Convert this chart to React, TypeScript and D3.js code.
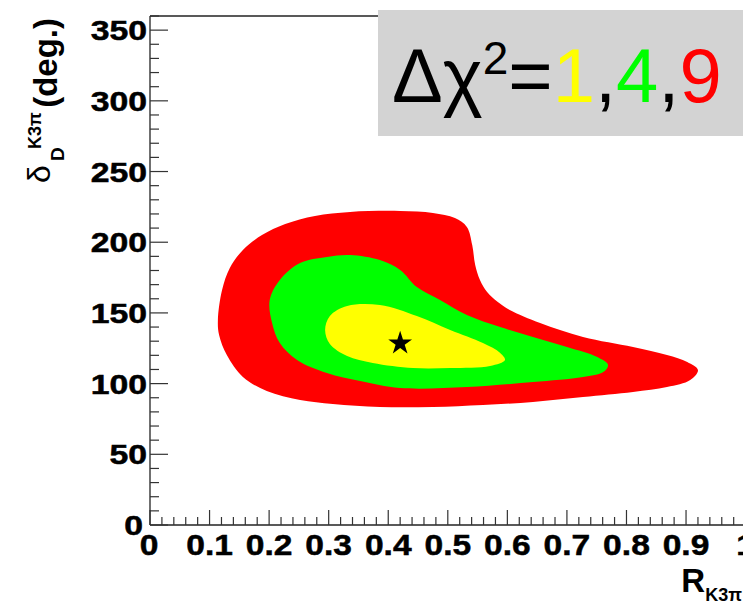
import React from "react";
import * as d3 from "d3";

// Confidence regions in the (R, delta) plane, as [R, delta(deg)] boundary points
const chi2Levels = [9, 4, 1];
const levelColors = ["#ff0000", "#00ff00", "#ffff00"];

const contour9: [number, number][] = [
  [0.114, 145.0], [0.121, 166.2], [0.134, 181.8], [0.156, 194.5], [0.188, 205.1],
  [0.227, 212.9], [0.277, 218.6], [0.336, 221.4], [0.42, 222.1], [0.475, 220.7],
  [0.512, 217.1], [0.532, 210.8], [0.541, 198.0], [0.546, 183.9], [0.554, 173.3],
  [0.566, 164.8], [0.584, 157.7], [0.604, 152.1], [0.655, 142.9], [0.727, 133.0],
  [0.811, 125.9], [0.868, 120.2], [0.902, 115.3], [0.92, 109.6], [0.907, 102.6],
  [0.868, 97.6], [0.811, 94.1], [0.727, 90.5], [0.643, 87.0], [0.559, 84.9],
  [0.475, 83.5], [0.386, 83.5], [0.307, 85.6], [0.252, 88.4], [0.196, 94.8],
  [0.156, 104.7], [0.129, 120.2], [0.116, 134.4],
];

const contour4: [number, number][] = [
  [0.201, 159.1], [0.218, 173.3], [0.252, 185.3], [0.297, 189.6], [0.336, 191.0],
  [0.386, 187.4], [0.42, 180.4], [0.448, 168.3], [0.487, 159.1], [0.532, 148.5],
  [0.588, 140.0], [0.643, 133.0], [0.7, 125.9], [0.751, 118.8], [0.769, 113.2],
  [0.761, 108.2], [0.727, 104.7], [0.643, 101.1], [0.532, 97.6], [0.42, 96.9],
  [0.353, 101.9], [0.297, 107.5], [0.247, 116.7], [0.218, 128.7], [0.205, 142.9],
];

const contour1: [number, number][] = [
  [0.294, 137.9], [0.302, 147.8], [0.331, 154.9], [0.386, 155.6], [0.448, 147.8],
  [0.504, 137.9], [0.559, 128.7], [0.588, 121.7], [0.596, 116.7], [0.571, 112.5],
  [0.504, 111.0], [0.442, 111.0], [0.374, 114.6], [0.331, 119.5], [0.302, 128.0],
];

const contours = [contour9, contour4, contour1];

// Best-fit point
const bestFit: [number, number] = [0.42, 128.5];

const xTicks = [0, 0.1, 0.2, 0.3, 0.4, 0.5, 0.6, 0.7, 0.8, 0.9, 1];
const xTickLabels = ["0", "0.1", "0.2", "0.3", "0.4", "0.5", "0.6", "0.7", "0.8", "0.9", "1"];
const yTicks = [0, 50, 100, 150, 200, 250, 300, 350];
const yTickLabels = ["0", "50", "100", "150", "200", "250", "300", "350"];

const W = 743;
const H = 603;
const FONT = "'Liberation Sans', Arial, Helvetica, sans-serif";

export default function App() {
  const x = d3.scaleLinear().domain([0, 1]).range([150, 745.6]);
  const y = d3.scaleLinear().domain([0, 360]).range([525, 16]);

  const line = d3
    .line<[number, number]>()
    .x((d) => x(d[0]))
    .y((d) => y(d[1]))
    .curve(d3.curveCatmullRomClosed.alpha(0.5));

  const xMinor = d3.range(0, 1.0001, 0.02);
  const yMinor = d3.range(0, 360.001, 10);

  const star = d3.symbol().type(d3.symbolStar).size(175)();

  const x0 = x(0);
  const y0 = y(0);
  const yTop = y(360);

  return (
    <svg
      width={W}
      height={H}
      viewBox={`0 0 ${W} ${H}`}
      style={{ position: "absolute", left: 0, top: 0, background: "#fff" }}
    >
      <rect x={0} y={0} width={W} height={H} fill="#fff" />

      {/* filled Δχ² regions, outermost first */}
      {contours.map((c, i) => (
        <path key={chi2Levels[i]} d={line(c) || ""} fill={levelColors[i]} stroke="none" />
      ))}

      <path d={star || ""} transform={`translate(${x(bestFit[0])},${y(bestFit[1])})`} fill="#000" />

      {/* frame */}
      <g stroke="#222" strokeWidth={1.3} fill="none">
        <line x1={x0} x2={x0} y1={yTop} y2={y0} />
        <line x1={x0} x2={W} y1={y0} y2={y0} />
        <line x1={x0} x2={W} y1={yTop} y2={yTop} />
      </g>

      {/* ticks */}
      <g stroke="#333" strokeWidth={1.2}>
        {xMinor.map((v, i) => {
          const major = i % 5 === 0;
          return <line key={i} x1={x(v)} x2={x(v)} y1={y0} y2={y0 - (major ? 15 : 8)} />;
        })}
        {yMinor.map((v, i) => {
          const major = i % 5 === 0;
          return <line key={i} x1={x0} x2={x0 + (major ? 18 : 9)} y1={y(v)} y2={y(v)} />;
        })}
      </g>

      {/* x tick labels */}
      <g fontFamily={FONT} fontWeight="bold" fontSize={30} fill="#000" stroke="#000" strokeWidth={0.5}>
        {xTicks.map((v, i) => (
          <text
            key={i}
            textAnchor="middle"
            transform={`translate(${x(v) - (i === 0 ? 1 : 0)},${y0 + 30}) scale(1.12,1)`}
          >
            {xTickLabels[i]}
          </text>
        ))}
      </g>

      {/* y tick labels */}
      <g fontFamily={FONT} fontWeight="bold" fontSize={27} fill="#000" stroke="#000" strokeWidth={0.5}>
        {yTicks.map((v, i) => (
          <text
            key={i}
            textAnchor="end"
            transform={`translate(${i === 0 ? 143 : 147},${y(v) + 10}) scale(1.25,1)`}
          >
            {yTickLabels[i]}
          </text>
        ))}
      </g>

      {/* x axis title */}
      <text x={742} y={592} textAnchor="end" fontFamily={FONT} fontWeight="bold" fill="#000">
        <tspan fontSize={33}>R</tspan>
        <tspan fontSize={18} dy={9}>K3π</tspan>
      </text>

      {/* y axis title */}
      <g transform="rotate(-90)" fontFamily={FONT} fill="#000">
        <text x={-183} y={50} fontSize={32}>δ</text>
        <text x={-161} y={64} fontSize={19} fontWeight="bold">D</text>
        <text x={-149} y={41} fontSize={18} fontWeight="bold">K3π</text>
        <text x={-18} y={57} fontSize={33} fontWeight="bold" textAnchor="end">(deg.)</text>
      </g>

      {/* legend box */}
      <rect x={378} y={10} width={W - 378} height={126} fill="#d3d3d3" />
      <text x={392} y={102} fontFamily={FONT} fontSize={76} fill="#000">
        <tspan>Δχ</tspan>
        <tspan fontSize={46} dy={-28}>2</tspan>
        <tspan dy={28}>=</tspan>
        <tspan fill="#ffff00">1</tspan>
        <tspan>,</tspan>
        <tspan fill="#00ff00">4</tspan>
        <tspan>,</tspan>
        <tspan fill="#ff0000">9</tspan>
      </text>
    </svg>
  );
}
